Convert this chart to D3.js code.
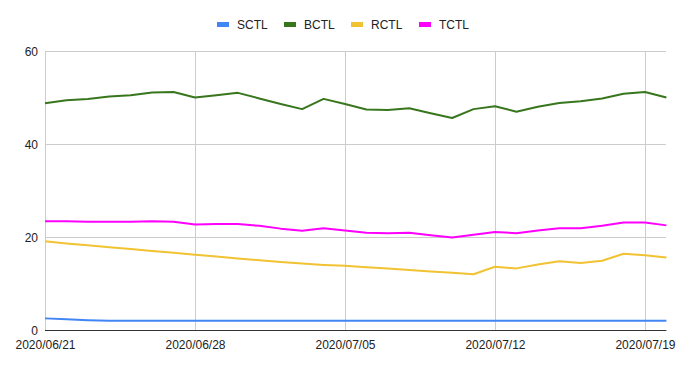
<!DOCTYPE html>
<html><head><meta charset="utf-8">
<script src="https://cdn.jsdelivr.net/npm/d3@7"></script>
<style>body{margin:0;background:#fff}svg{display:block;font-family:"Liberation Sans",Arial,sans-serif}</style>
</head><body><svg id="c" width="686" height="369"></svg>
<script>
const startDate = "2020/06/21";
const seriesNames = ["SCTL","BCTL","RCTL","TCTL"];
const seriesColors = ["#4285F4","#38761D","#F1C232","#FF00FF"];
const SCTL = [2.5,2.3,2.1,2.0,2.0,2.0,2.0,2.0,2.0,2.0,2.0,2.0,2.0,2.0,2.0,2.0,2.0,2.0,2.0,2.0,2.0,2.0,2.0,2.0,2.0,2.0,2.0,2.0,2.0,2.0];
const BCTL = [48.75,49.4,49.7,50.2,50.5,51.1,51.2,50.0,50.5,51.0,49.8,48.6,47.5,49.7,48.6,47.4,47.3,47.7,46.6,45.6,47.5,48.1,46.95,48.0,48.8,49.2,49.8,50.8,51.2,50.0];
const RCTL = [19.1,18.6,18.2,17.8,17.4,17.0,16.6,16.2,15.8,15.4,15.0,14.6,14.3,14.0,13.8,13.5,13.2,12.9,12.6,12.3,12.0,13.6,13.25,14.1,14.8,14.4,14.9,16.4,16.05,15.6];
const TCTL = [23.4,23.4,23.3,23.3,23.3,23.4,23.3,22.7,22.8,22.8,22.4,21.8,21.35,21.9,21.4,20.9,20.8,20.9,20.4,19.9,20.5,21.1,20.8,21.4,21.9,21.9,22.4,23.1,23.1,22.5];
const yTicks = [0,20,40,60];
const xTickLabels = ["2020/06/21","2020/06/28","2020/07/05","2020/07/12","2020/07/19"];

const parse = d3.timeParse("%Y/%m/%d");
const fmt = d3.timeFormat("%Y/%m/%d");
const d0 = parse(startDate);
const dates = SCTL.map((_, i) => d3.timeDay.offset(d0, i));
const allSeries = [SCTL, BCTL, RCTL, TCTL];

const svg = d3.select("#c");
const L = 45, R = 666.4, T = 51, B = 330;
const x = d3.scaleTime().domain([dates[0], dates[dates.length-1]]).range([L, R]);
const y = d3.scaleLinear().domain([0, 60]).range([B, T]);

// horizontal grid
svg.append("g").selectAll("line").data(yTicks.filter(v => v !== 0)).join("line")
  .attr("x1", L).attr("x2", R).attr("y1", d => y(d)).attr("y2", d => y(d))
  .attr("stroke", "#cccccc").attr("stroke-width", 1).attr("shape-rendering","crispEdges");
// vertical grid
const xt = xTickLabels.map(parse);
svg.append("g").selectAll("line").data(xt).join("line")
  .attr("x1", d => Math.round(x(d))+0.5).attr("x2", d => Math.round(x(d))+0.5).attr("y1", T).attr("y2", B)
  .attr("stroke", "#cccccc").attr("stroke-width", 1);

// y axis labels
const yAxis = d3.axisLeft(y).tickValues(yTicks).tickSize(0).tickPadding(7);
const gy = svg.append("g").attr("transform", `translate(${L},0)`).call(yAxis);
gy.select(".domain").remove();
gy.selectAll("text").attr("font-size", 12).attr("fill", "#222").attr("dy", 4.5)
  .attr("font-family", '"Liberation Sans",Arial,sans-serif');

// x axis labels
const xAxis = d3.axisBottom(x).tickValues(xt).tickFormat(fmt).tickSize(0).tickPadding(0);
const gx = svg.append("g").attr("transform", `translate(0,${B})`).call(xAxis);
gx.select(".domain").remove();
gx.selectAll("text").attr("font-size", 12).attr("fill", "#222").attr("y", 18.5).attr("dy", 0)
  .attr("font-family", '"Liberation Sans",Arial,sans-serif');

// lines
const line = d3.line().x((d, i) => x(dates[i])).y(d => y(d));
allSeries.forEach((s, k) => {
  svg.append("path").datum(s).attr("d", line).attr("fill", "none")
    .attr("stroke", seriesColors[k]).attr("stroke-width", 2).attr("stroke-linejoin", "round");
});

// baseline
svg.append("line").attr("x1", L).attr("x2", R).attr("y1", y(0)+0.5).attr("y2", y(0)+0.5)
  .attr("stroke", "#333").attr("stroke-width", 1);

// legend
const legX = [217, 284, 351, 419];
const lg = svg.append("g");
seriesNames.forEach((n, k) => {
  lg.append("rect").attr("x", legX[k]).attr("y", 22).attr("width", 12).attr("height", 5).attr("fill", seriesColors[k]);
  lg.append("text").attr("x", legX[k] + 20).attr("y", 29).attr("font-size", 12).attr("fill", "#222").text(n);
});
</script></body></html>
